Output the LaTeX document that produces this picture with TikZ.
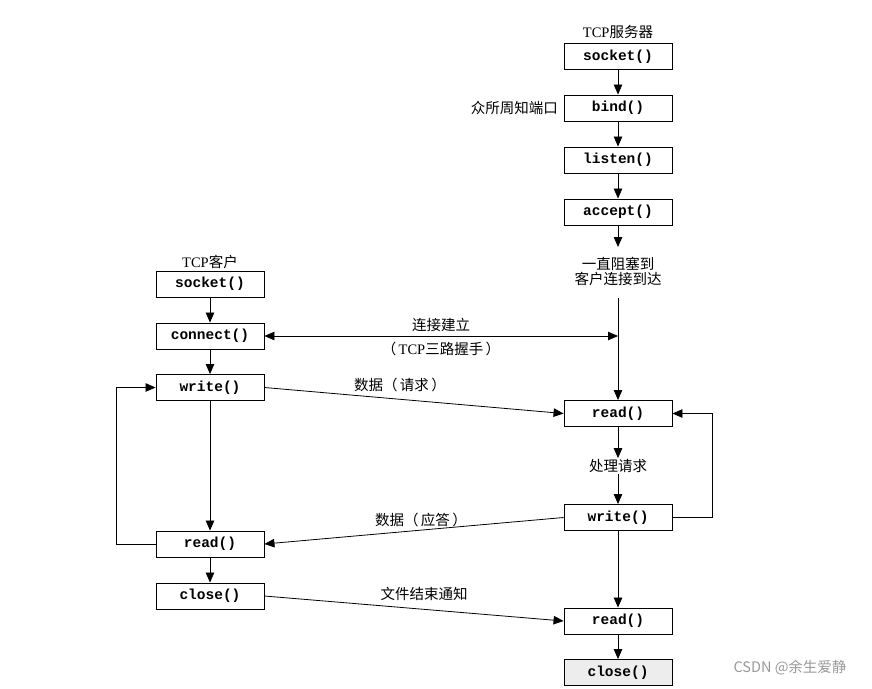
\documentclass[tikz,border=0pt]{standalone}
\usepackage{fontspec}
\setmainfont{Liberation Serif}
\setmonofont{Liberation Mono}
\newfontfamily\cjk{Noto Sans CJK SC}
\usetikzlibrary{arrows.meta}
\begin{document}
\begin{tikzpicture}[x=1pt,y=-1pt,
  fn/.style={draw, line width=0.9pt, minimum width=108pt, minimum height=26pt, inner sep=0pt, font=\fontsize{14.5}{14.5}\ttfamily\bfseries},
  lbl/.style={font=\fontsize{14.5}{17}\selectfont, inner sep=1pt, align=center},
  tip/.style={Triangle[length=10pt,width=8.5pt]},
  conn/.style={line width=0.8pt, -{Triangle[length=10pt,width=8.5pt]}},
  line/.style={line width=0.8pt}]
\useasboundingbox (0,0) rectangle (872,688);
% server
\node[lbl] (stitle) at (618,32) {TCP{\cjk 服务器}};
\node[fn] (ssock) at (618,56.5) {socket()};
\node[fn] (sbind) at (618,108) {bind()};
\node[fn] (slisten) at (618,160) {listen()};
\node[fn] (saccept) at (618,212) {accept()};
\node[lbl, anchor=east] (port) at (559,108) {\cjk 众所周知端口};
\node[lbl] (block) at (618,271) {\cjk 一直阻塞到\\[-2pt]\cjk 客户连接到达};
\coordinate (bend) at (618,247);
\coordinate (bstart) at (618,298);
\coordinate (shake) at (618,336);
\node[fn] (sread) at (618,413.5) {read()};
\node[lbl] (proc) at (618,466) {\cjk 处理请求};
\node[fn] (swrite) at (618,517.5) {write()};
\node[fn] (sread2) at (618,621) {read()};
\node[fn, fill=black!7] (sclose) at (618,672.5) {close()};
\coordinate (sloop) at (712,517.5);
% client
\node[lbl] (ctitle) at (210,262) {TCP{\cjk 客户}};
\node[fn] (csock) at (210,284) {socket()};
\node[fn] (cconn) at (210,336) {connect()};
\node[fn] (cwrite) at (210,387.5) {write()};
\node[fn] (cread) at (210,544) {read()};
\node[fn] (cclose) at (210,596) {close()};
\coordinate (cloop) at (116,544);
% server arrows
\draw[conn] (ssock) -- (sbind);
\draw[conn] (sbind) -- (slisten);
\draw[conn] (slisten) -- (saccept);
\draw[conn] (saccept) -- (bend);
\draw[conn] (bstart) -- (sread);
\draw[conn] (sread) -- (proc);
\draw[conn] (proc) -- (swrite);
\draw[conn] (swrite) -- (sread2);
\draw[conn] (sread2) -- (sclose);
\draw[conn] (swrite.east) -- (sloop) |- (sread.east);
% client arrows
\draw[conn] (csock) -- (cconn);
\draw[conn] (cconn) -- (cwrite);
\draw[conn] (cwrite) -- (cread);
\draw[conn] (cread) -- (cclose);
\draw[conn] (cread.west) -- (cloop) |- (cwrite.west);
% exchanges
\draw[line, {Triangle[length=10pt,width=8.5pt]}-{Triangle[length=10pt,width=8.5pt]}] (cconn.east) -- (shake);
\node[lbl] (est) at (441,325) {\cjk 连接建立};
\node[lbl] (hs) at (441,349) {{\cjk （\,}TCP{\cjk 三路握手\,）}};
\draw[conn] (cwrite.east) -- (sread.west);
\node[lbl] (req) at (400,385) {\cjk 数据（\,请求\,）};
\draw[conn] (swrite.west) -- (cread.east);
\node[lbl] (rep) at (421,520) {\cjk 数据（\,应答\,）};
\draw[conn] (cclose.east) -- (sread2.west);
\node[lbl] (eof) at (424,594) {\cjk 文件结束通知};
\node[font=\fontsize{14.5}{14.5}\selectfont\cjk, text=black!40] (wm) at (790,668) {CSDN @余生爱静};
\end{tikzpicture}
\end{document}
